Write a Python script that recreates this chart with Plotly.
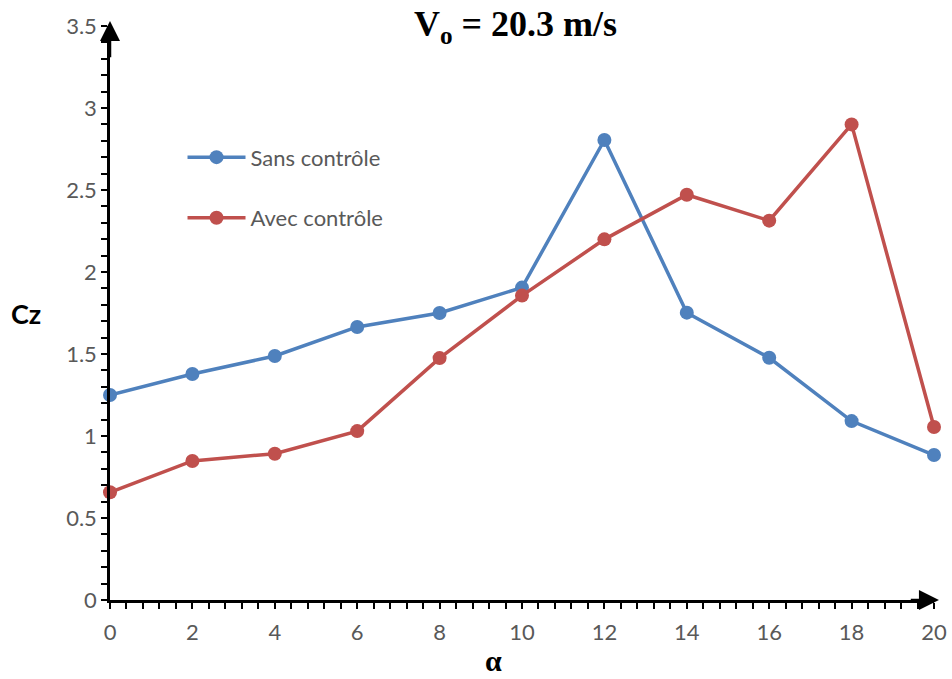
import plotly.graph_objects as go

# Angle of attack (deg) and lift coefficient for both configurations
alpha = [0, 2, 4, 6, 8, 10, 12, 14, 16, 18, 20]
cz_sans = [1.25, 1.378, 1.488, 1.665, 1.75, 1.905, 2.805, 1.752, 1.477, 1.091, 0.884]
cz_avec = [0.657, 0.848, 0.892, 1.03, 1.475, 1.856, 2.199, 2.471, 2.313, 2.90, 1.055]

series_names = ["Sans contrôle", "Avec contrôle"]
series_colors = ["#4F81BD", "#C0504D"]
x_ticks = [0, 2, 4, 6, 8, 10, 12, 14, 16, 18, 20]
y_ticks = [0, 0.5, 1, 1.5, 2, 2.5, 3, 3.5]
y_tick_text = ["0", "0.5", "1", "1.5", "2", "2.5", "3", "3.5"]

fig = go.Figure()
for i, (name, vals, col) in enumerate(zip(series_names, [cz_sans, cz_avec], series_colors)):
    fig.add_trace(go.Scatter(
        x=alpha, y=vals, name=name, mode="lines+markers",
        line=dict(color=col, width=3.5),
        marker=dict(color=col, size=14),
        cliponaxis=False, legendgroup=f"g{i}",
    ))

tick_font = dict(family="Lato, Noto Sans, sans-serif", size=22, color="#595959")

fig.update_layout(
    width=952, height=679,
    margin=dict(l=110, r=18, t=26, b=79),
    paper_bgcolor="white", plot_bgcolor="white",
    showlegend=True,
    legend=dict(
        x=0.088, y=0.718, xanchor="left", yanchor="middle",
        font=dict(family="Lato, Noto Sans, sans-serif", size=22, color="#595959"),
        tracegroupgap=29, itemwidth=58, bgcolor="rgba(0,0,0,0)",
    ),
    xaxis=dict(
        range=[0, 20], tickvals=x_ticks, ticktext=[str(v) for v in x_ticks],
        automargin=False, ticklabelstandoff=5,
        showgrid=False, zeroline=False, showline=True, linecolor="black", linewidth=2.5,
        ticks="outside", ticklen=6, tickwidth=2, tickcolor="black",
        tickfont=tick_font,
        minor=dict(dtick=0.4, tick0=0, ticks="outside", ticklen=6, tickwidth=2,
                   tickcolor="black", showgrid=False),
    ),
    yaxis=dict(
        range=[0, 3.5], tickvals=y_ticks, ticktext=y_tick_text,
        automargin=False,
        showgrid=False, zeroline=False, showline=True, linecolor="black", linewidth=2.5,
        ticks="outside", ticklen=6, tickwidth=2, tickcolor="black",
        tickfont=tick_font,
        minor=dict(dtick=0.1, tick0=0, ticks="outside", ticklen=6, tickwidth=2,
                   tickcolor="black", showgrid=False),
    ),
)

# Title, axis titles
fig.add_annotation(
    text="<b>V<sub>o</sub> = 20.3 m/s</b>", xref="paper", yref="paper",
    x=0.492, y=1.0, xanchor="center", yanchor="middle", showarrow=False,
    font=dict(family="Liberation Serif, Times New Roman, serif", size=36, color="black"),
)
fig.add_annotation(
    text="<b>Cz</b>", xref="paper", yref="paper", x=-0.102, y=0.50,
    xanchor="center", yanchor="middle", showarrow=False,
    font=dict(family="Lato, Noto Sans, sans-serif", size=27, color="black"),
)
fig.add_annotation(
    text="<b>α</b>", xref="paper", yref="paper", x=0.466, y=-0.105,
    xanchor="center", yanchor="middle", showarrow=False,
    font=dict(family="Liberation Serif, Times New Roman, serif", size=30, color="black"),
)

# Arrowheads at the ends of the axes
fig.add_annotation(
    x=0, y=3.53, ax=0, ay=3.3, xref="x", yref="y", axref="x", ayref="y",
    text="", showarrow=True, arrowhead=2, arrowsize=1.6, arrowwidth=2.5, arrowcolor="black",
)
fig.add_annotation(
    x=20.12, y=0, ax=19.4, ay=0, xref="x", yref="y", axref="x", ayref="y",
    text="", showarrow=True, arrowhead=2, arrowsize=1.6, arrowwidth=2.5, arrowcolor="black",
)

fig.write_html("out.html")
